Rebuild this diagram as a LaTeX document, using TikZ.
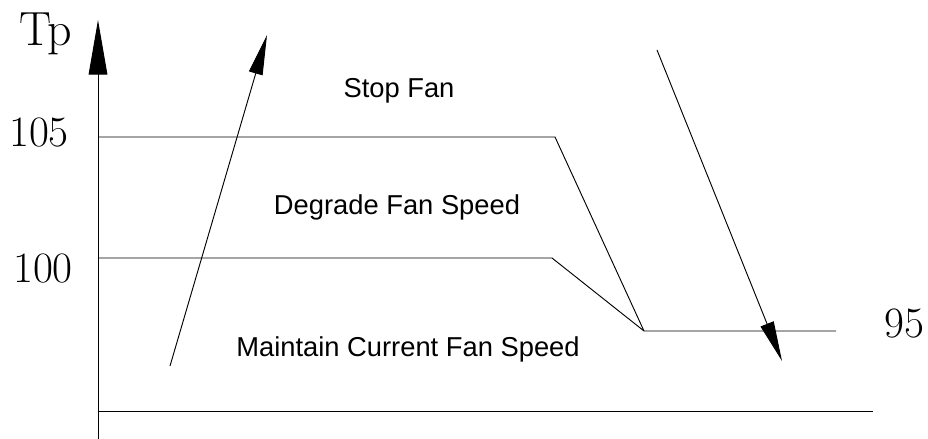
\documentclass[tikz,border=0pt]{standalone}
\usepackage{fontspec}
\newfontfamily\labelfont{Liberation Sans}
\usepackage{tikz}
\usetikzlibrary{arrows.meta,positioning}

\begin{document}
\begin{tikzpicture}[
  x=0.75pt, y=-0.75pt,
  level/.style={line width=0.7pt},
  axisline/.style={line width=0.75pt,-{Triangle[length=41pt,width=14pt]}},
  trend/.style={line width=0.7pt,-{Triangle[length=30pt,width=10.5pt]}},
  value/.style={font=\fontsize{32.5}{36}\selectfont,anchor=base,inner sep=0pt},
  zone/.style={font=\labelfont\fontsize{20.5}{24}\selectfont,anchor=base,inner sep=0pt},
]
  \useasboundingbox (0,0) rectangle (928,439);

  % key points of the thresholds
  \coordinate (O)  at (98,439);
  \coordinate (Y)  at (98,20);
  \coordinate (B1) at (98,411);  \coordinate (B2) at (873,411);
  \coordinate (H1) at (98,137);  \coordinate (H2) at (555,137);
  \coordinate (M1) at (98,258);  \coordinate (M2) at (552,258);
  \coordinate (L1) at (644,331); \coordinate (L2) at (836,331);
  \coordinate (U1) at (170,366); \coordinate (U2) at (267,35);
  \coordinate (D1) at (657,50);  \coordinate (D2) at (782,361);

  \draw[axisline] (O) -- (Y);
  \draw[level] (B1) -- (B2);
  \draw[level] (H1) -- (H2) -- (L1);
  \draw[level] (M1) -- (M2) -- (L1) -- (L2);
  \draw[trend] (U1) -- (U2);
  \draw[trend] (D1) -- (D2);

  \node[value,font=\fontsize{36}{40}\selectfont](tp) at (46,45) {Tp};
  \node[value](v105) at (39,146)  {105};
  \node[value](v100) at (43,282)  {100};
  \node[value](v95)  at (904,337) {95};

  \node[zone](stop)     at (399,97)  {Stop Fan};
  \node[zone](degrade)  at (397,214) {Degrade Fan Speed};
  \node[zone](maintain) at (408,356) {Maintain Current Fan Speed};

\end{tikzpicture}
\end{document}
